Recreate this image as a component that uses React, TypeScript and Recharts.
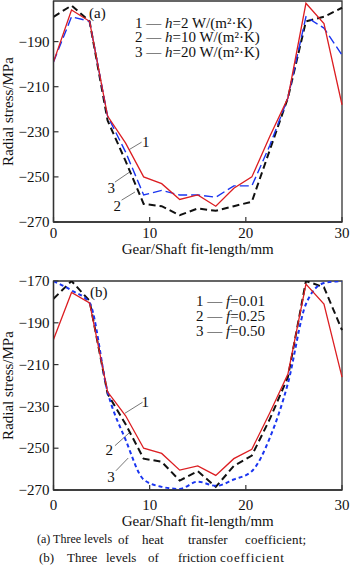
import React from "react";
import {
  LineChart,
  Line,
  XAxis,
  YAxis,
  ReferenceArea,
  ReferenceLine,
  ReferenceDot,
} from "recharts";

// fit-length positions (mm)
const lengths = [0, 1.875, 3.75, 5.625, 7.5, 9.375, 11.25, 13.125, 15, 16.875, 18.75, 20.625, 22.5, 24.375, 26.25, 28.125, 30];

// (a) heat transfer coefficient
const h2 = [-199, -176, -181, -223, -235, -250, -253, -260, -258, -263, -255, -250, -232, -215, -173, -182, -218];
const h10 = [-179, -174, -181, -225, -243, -262, -263, -267, -264, -265, -263, -261, -238, -215, -181, -179, -175];
const h20 = [-199, -179, -181, -223, -239, -258, -256, -258, -258, -259, -254, -254, -236, -215, -179, -184, -196];

// (b) friction coefficient
const f001 = [-198, -175.5, -180.5, -223, -234.5, -250, -252.5, -260.5, -258.5, -263, -255, -250.5, -233, -214.5, -171.5, -181, -216];
const f025 = [-178.5, -170, -179.5, -224, -238.5, -255, -256.5, -265.5, -261, -268.5, -258.5, -253.5, -236, -216, -170, -173, -193.5];
const f050 = [-170, -174.5, -180.5, -223, -246, -265, -268.5, -269.5, -266, -268, -265, -261, -245, -219, -181, -171, -170];

const xTicks = [0, 10, 20, 30];
const yTicksA = [-190, -210, -230, -250, -270];
const yTicksB = [-170, -190, -210, -230, -250, -270];

const dataA = lengths.map((x, i) => ({ x, s1: h2[i], s2: h10[i], s3: h20[i] }));
const dataB = lengths.map((x, i) => ({ x, s1: f001[i], s2: f025[i], s3: f050[i] }));

const FONT = '"Liberation Serif", "Times New Roman", serif';
const RED = "#dc1e22";
const BLUE = "#1a35f0";
const AXIS = "#333";

const fmt = (v: number) => (v < 0 ? `\u2212${Math.abs(v)}` : `${v}`);

const YTick = (props: any) => {
  const { x, y, payload } = props;
  return (
    <g>
      <line x1={x + 4} x2={x + 9} y1={y} y2={y} stroke={AXIS} strokeWidth={1.2} />
      <text x={x} y={y} dy="0.35em" textAnchor="end" fontSize={15} fill="#111" fontFamily={FONT}>
        {fmt(payload.value)}
      </text>
    </g>
  );
};

const makeXTick = (gap: number) => (props: any) => {
  const { x, y, payload } = props;
  return (
    <g>
      <line x1={x} x2={x} y1={y - gap} y2={y - gap - 5} stroke={AXIS} strokeWidth={1.2} />
      <text x={x} y={y} dy="0.71em" textAnchor="middle" fontSize={15} fill="#111" fontFamily={FONT}>
        {payload.value}
      </text>
    </g>
  );
};

// curve number callouts: [label, textX, textY, lineFrom, lineTo]
const calloutsA: [string, number, number, [number, number], [number, number]][] = [
  ["1", 9.6, -234.3, [7.87, -237.9], [9.16, -234.6]],
  ["3", 6.0, -255, [6.39, -252.3], [7.94, -247.8]],
  ["2", 6.63, -262.9, [7.08, -260.3], [8.47, -256.7]],
];
const calloutsB: [string, number, number, [number, number], [number, number]][] = [
  ["1", 9.53, -227.6, [7.42, -233.3], [9.26, -228]],
  ["2", 5.8, -250.7, [6.39, -248.8], [7.94, -242.4]],
  ["3", 5.97, -263.4, [6.49, -260.8], [7.77, -254.7]],
];

function Panel({
  data,
  yTicks,
  yTop,
  callouts,
  height,
  marginTop,
  xAxisHeight,
  tickGap,
  titleOffset,
  blueDash,
  blueWidth,
  blueType,
}: any) {
  return (
    <LineChart
      width={350}
      height={height}
      data={data}
      margin={{ top: marginTop, right: 8, bottom: 0, left: 0 }}
      style={{ fontFamily: FONT }}
    >
      <XAxis
        dataKey="x"
        type="number"
        domain={[0, 30]}
        ticks={xTicks}
        height={xAxisHeight}
        tickSize={0}
        tickMargin={tickGap}
        tickLine={false}
        tick={makeXTick(tickGap)}
        axisLine={{ stroke: AXIS, strokeWidth: 1.3 }}
        label={{ value: "Gear/Shaft fit-length/mm", position: "insideBottom", offset: titleOffset, fontSize: 15, fill: "#111" }}
      />
      <YAxis
        type="number"
        domain={[-270, yTop]}
        ticks={yTicks}
        allowDataOverflow
        width={53.5}
        tickSize={0}
        tickMargin={4}
        tickLine={false}
        tick={YTick}
        axisLine={{ stroke: AXIS, strokeWidth: 1.3 }}
        label={{
          value: "Radial stress/MPa",
          angle: -90,
          position: "insideLeft",
          offset: 8,
          fontSize: 15,
          fill: "#111",
          style: { textAnchor: "middle" },
        }}
      />
      <ReferenceArea x1={0} x2={30} y1={-270} y2={yTop} fill="none" stroke={AXIS} strokeWidth={1.3} />
      {callouts.map(([t, tx, ty, a, b]: any) => (
        <ReferenceLine
          key={"l" + t}
          segment={[{ x: a[0], y: a[1] }, { x: b[0], y: b[1] }]}
          stroke="#777"
          strokeWidth={1}
        />
      ))}
      {callouts.map(([t, tx, ty]: any) => (
        <ReferenceDot
          key={"d" + t}
          x={tx}
          y={ty}
          r={0}
          fill="none"
          stroke="none"
          label={{ value: t, position: "center", fontSize: 15, fill: "#111" }}
        />
      ))}
      <Line
        type="linear"
        dataKey="s2"
        stroke="#111"
        strokeWidth={2}
        strokeDasharray="7 4"
        dot={false}
        isAnimationActive={false}
      />
      <Line
        type={blueType}
        dataKey="s3"
        stroke={BLUE}
        strokeWidth={blueWidth}
        strokeDasharray={blueDash}
        dot={false}
        isAnimationActive={false}
      />
      <Line type="linear" dataKey="s1" stroke={RED} strokeWidth={1.3} dot={false} isAnimationActive={false} />
    </LineChart>
  );
}

const txt: React.CSSProperties = {
  position: "absolute",
  fontFamily: FONT,
  fontSize: 15,
  lineHeight: "14.5px",
  color: "#111",
  whiteSpace: "nowrap",
};

// caption words: [text, left, fontSize, letterSpacing]
const captionA: [string, number, number, number][] = [
  ["(a) Three levels", 37, 12, 0],
  ["of", 118, 13, 0],
  ["heat", 142, 13, 0],
  ["transfer", 188, 13, 0],
  ["coefficient;", 245, 13, 0.2],
];
const captionB: [string, number, number, number][] = [
  ["(b)", 39, 13, 0],
  ["Three", 67, 13, 0],
  ["levels", 106, 13, 0],
  ["of", 148, 13, 0],
  ["friction", 178, 13, 0],
  ["coefficient", 220, 13, 0.85],
];

export default function App() {
  return (
    <div style={{ position: "absolute", left: 0, top: 0, width: 350, height: 567, background: "#fff", overflow: "hidden" }}>
      <div style={{ position: "absolute", left: 0, top: 0 }}>
        <Panel
          data={dataA}
          yTicks={yTicksA}
          yTop={-172}
          callouts={calloutsA}
          height={262}
          marginTop={1}
          xAxisHeight={40}
          tickGap={5.5}
          titleOffset={8}
          blueDash="9 4"
          blueWidth={1.4}
          blueType="linear"
        />
      </div>
      <div style={{ position: "absolute", left: 0, top: 262 }}>
        <Panel
          data={dataB}
          yTicks={yTicksB}
          yTop={-170}
          callouts={calloutsB}
          height={268}
          marginTop={19}
          xAxisHeight={40}
          tickGap={9.5}
          titleOffset={4}
          blueDash="4 3"
          blueWidth={2}
          blueType="monotone"
        />
      </div>

      <div style={{ ...txt, left: 89, top: 5.5 }}>(a)</div>
      <div style={{ ...txt, left: 135, top: 15.5 }}>
        1 — <i>h</i>=2 W/(m²·K)
        <br />
        2 — <i>h</i>=10 W/(m²·K)
        <br />
        3 — <i>h</i>=20 W/(m²·K)
      </div>

      <div style={{ ...txt, left: 90, top: 284.5 }}>(b)</div>
      <div style={{ ...txt, left: 196, top: 294, lineHeight: "15px" }}>
        1 — <i>f</i>=0.01
        <br />
        2 — <i>f</i>=0.25
        <br />
        3 — <i>f</i>=0.50
      </div>

      {captionA.map(([w, left, fs, ls]) => (
        <div key={"a" + w} style={{ ...txt, fontSize: fs, lineHeight: "15px", left, top: 532, letterSpacing: ls }}>
          {w}
        </div>
      ))}
      {captionB.map(([w, left, fs, ls]) => (
        <div key={"b" + w} style={{ ...txt, fontSize: fs, lineHeight: "15px", left, top: 550, letterSpacing: ls }}>
          {w}
        </div>
      ))}
    </div>
  );
}
